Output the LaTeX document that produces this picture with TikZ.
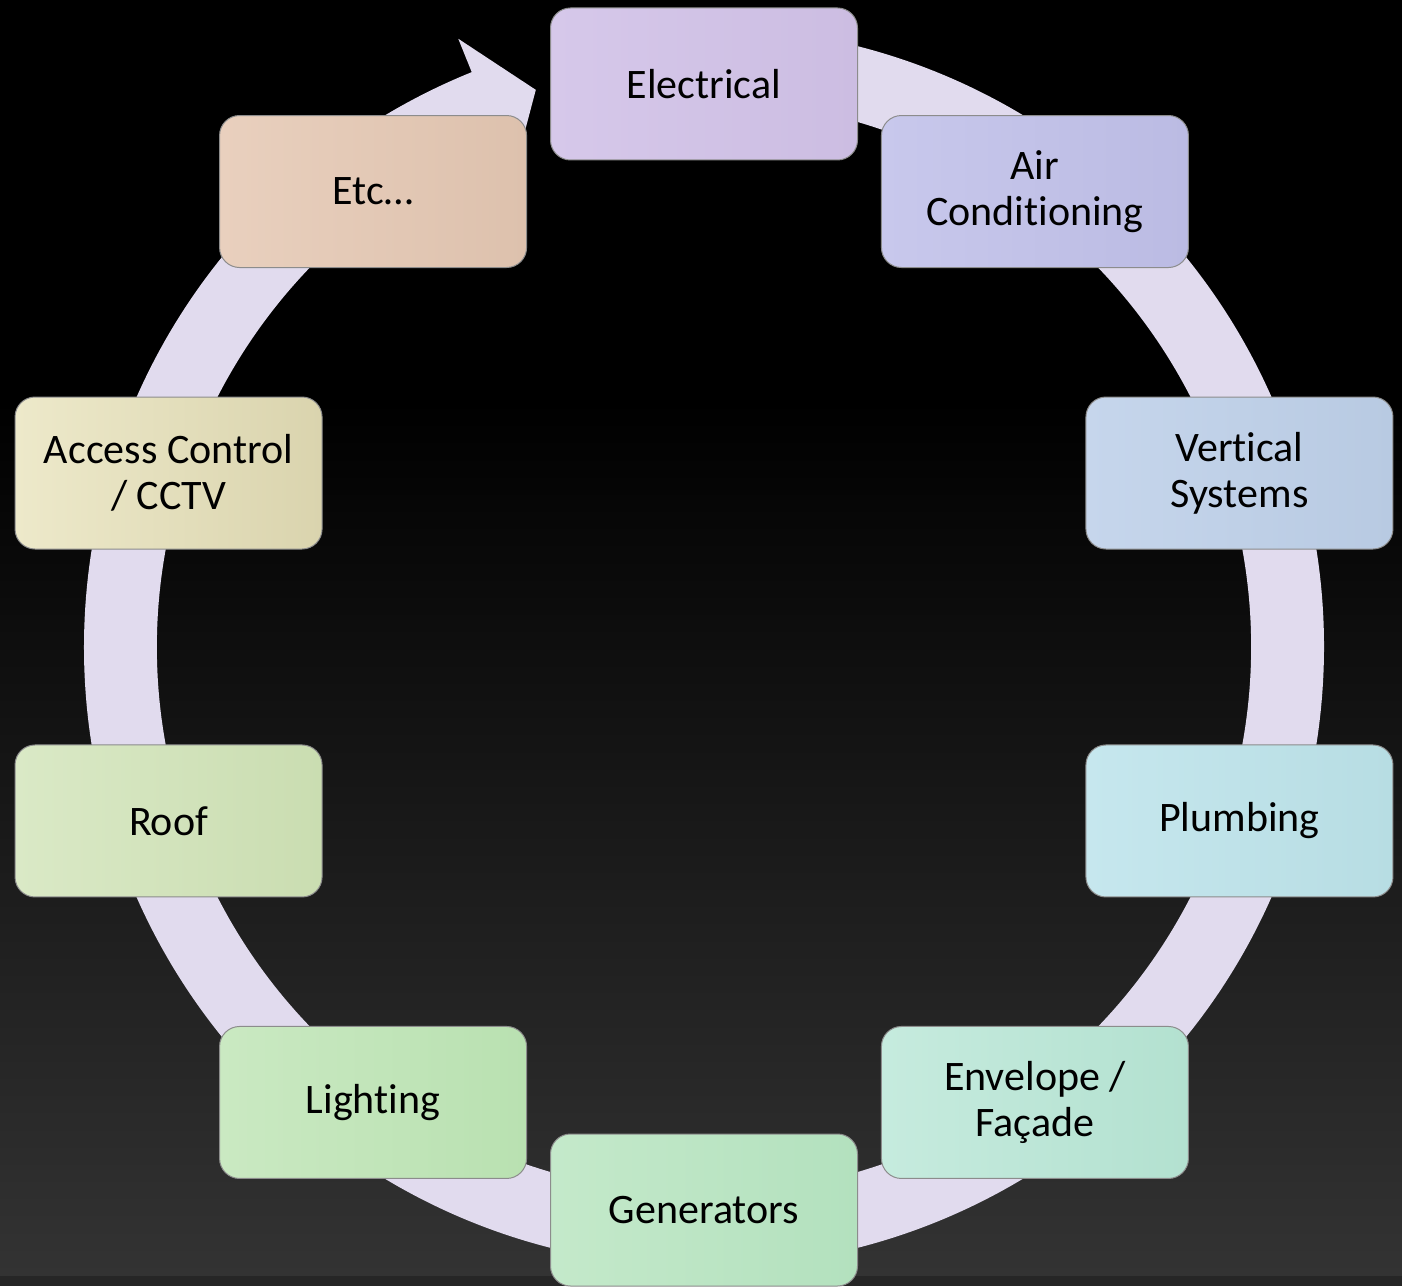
\documentclass[tikz,border=0pt]{standalone}
\usepackage{fontspec}
\setmainfont[Ligatures={NoCommon,NoContextual}]{Carlito}
\newcommand{\nolig}{\kern0pt{}}
\definecolor{ringc}{HTML}{E1DBEE}
\definecolor{boxline}{HTML}{8C8C8C}
\definecolor{bgbot}{HTML}{333333}
\definecolor{bgband}{HTML}{262626}
\definecolor{cAl}{HTML}{D6C8EA}\definecolor{cAr}{HTML}{CCBDE2}
\definecolor{cBl}{HTML}{C8C8EC}\definecolor{cBr}{HTML}{BBBBE3}
\definecolor{cCl}{HTML}{C6D6EC}\definecolor{cCr}{HTML}{B8CAE2}
\definecolor{cDl}{HTML}{C6E7EE}\definecolor{cDr}{HTML}{B7DDE3}
\definecolor{cEl}{HTML}{C6EBDE}\definecolor{cEr}{HTML}{B3E1D0}
\definecolor{cFl}{HTML}{C4E9CA}\definecolor{cFr}{HTML}{B3E1BE}
\definecolor{cGl}{HTML}{CAE9C2}\definecolor{cGr}{HTML}{B9E1B1}
\definecolor{cHl}{HTML}{DAE9C6}\definecolor{cHr}{HTML}{CADDB1}
\definecolor{cIl}{HTML}{EDE9CA}\definecolor{cIr}{HTML}{DAD4AE}
\definecolor{cJl}{HTML}{E9D0BE}\definecolor{cJr}{HTML}{DDC1AD}
\begin{document}
\begin{tikzpicture}[x=0.5pt,y=0.5pt,
  box/.style={rounded corners=10pt, draw=boxline, line width=0.5pt,
    minimum width=153.5pt, minimum height=76pt, align=center,
    font=\fontsize{21}{23}\selectfont, text=black, inner sep=0pt},
]
\useasboundingbox (0,0) rectangle (1402,1286);
\fill[black] (0,0) rectangle (1402,1286);
\shade[top color=black, bottom color=bgbot] (0,10) rectangle (1402,886);
\fill[bgband] (0,0) rectangle (1402,10);
\coordinate (C) at (704,639);
% cycle ring with arrowhead
\fill[ringc] ([shift={(88:620)}]C) arc[start angle=88, end angle=-248, radius=620]
  -- ([shift={(112:656)}]C) -- ([shift={(106.8:582)}]C)
  -- ([shift={(112:509)}]C) -- ([shift={(112:547)}]C)
  arc[start angle=-248, end angle=88, radius=547] -- cycle;
% boxes
\node[box, left color=cAl, right color=cAr] (electrical) at ([shift={(90:563)}]C) {Electrical};
\node[box, left color=cBl, right color=cBr] (aircon) at ([shift={(54:563)}]C) {Air\\Condit\nolig ioning};
\node[box, left color=cCl, right color=cCr] (vertical) at ([shift={(18:563)}]C) {Vert\nolig ical\\Systems};
\node[box, left color=cDl, right color=cDr] (plumbing) at ([shift={(-18:563)}]C) {Plumbing};
\node[box, left color=cEl, right color=cEr] (envelope) at ([shift={(-54:563)}]C) {Envelope /\\Façade};
\node[box, left color=cFl, right color=cFr] (generators) at ([shift={(-90:563)}]C) {Generators};
\node[box, left color=cGl, right color=cGr] (lighting) at ([shift={(-126:563)}]C) {Lighting};
\node[box, left color=cHl, right color=cHr] (roof) at ([shift={(-162:563)}]C) {Roof};
\node[box, left color=cIl, right color=cIr] (access) at ([shift={(162:563)}]C) {Access Control\\/ CCTV};
\node[box, left color=cJl, right color=cJr] (etc) at ([shift={(126:563)}]C) {Etc…};
\end{tikzpicture}
\end{document}
